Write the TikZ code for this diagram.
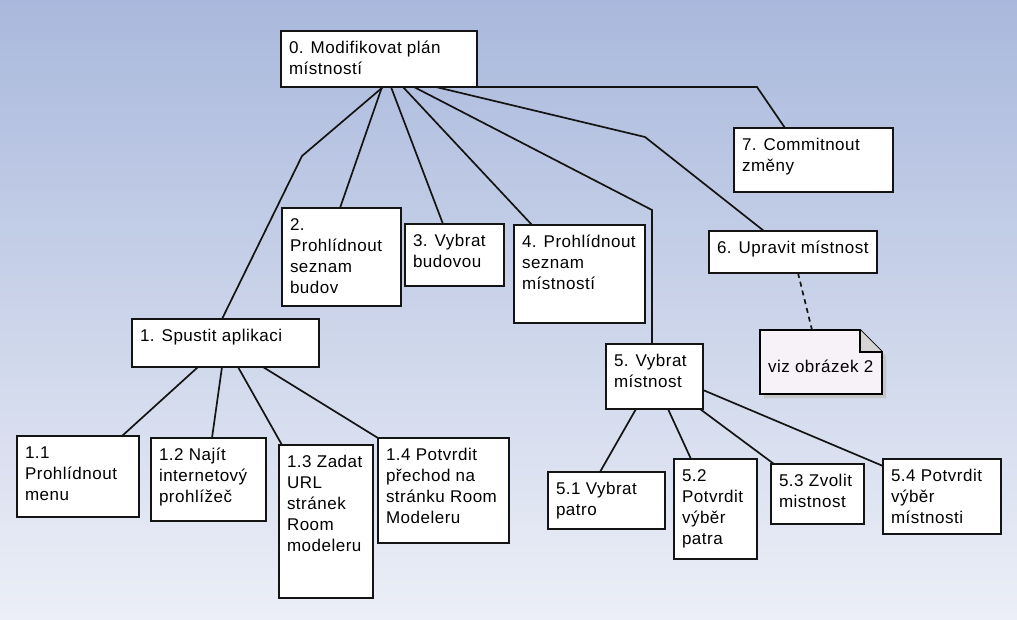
\documentclass[tikz,border=0pt]{standalone}
\usepackage{fontspec}
\setmainfont{Liberation Sans}[LetterSpace=3]
\usepackage{tkz-graph}
\usetikzlibrary{backgrounds}
\definecolor{bgtop}{RGB}{169,184,220}
\definecolor{bgbot}{RGB}{236,239,247}
\definecolor{notefill}{RGB}{247,242,247}
\definecolor{foldgray}{RGB}{212,212,212}
\definecolor{inkline}{RGB}{20,20,20}
\newcommand{\tasktext}[3]{\parbox[t][#2pt][t]{#1pt}{\rule{0pt}{16pt}#3}}

\begin{document}
\begin{tikzpicture}[x=1pt, y=-1pt, line width=1.7pt, draw=inkline,
    font=\fontsize{17pt}{21pt}\selectfont]
  \useasboundingbox (0,0) rectangle (1017,619);
  \GraphInit[vstyle=Normal]
  \tikzset{VertexStyle/.style = {draw=inkline, rectangle, fill=white,
      anchor=north west, line width=1.8pt, inner xsep=8pt, inner ysep=6pt,
      outer sep=0pt, text=black}}
  \Vertex[x=281,y=31,L={\tasktext{180}{44}{0. Modifikovat plán\\místností}}]{M0}
  \Vertex[x=132,y=319,L={\tasktext{171}{36}{1. Spustit aplikaci}}]{T1}
  \Vertex[x=282,y=208,L={\tasktext{103}{86}{2.\\Prohlídnout\\seznam\\budov}}]{T2}
  \Vertex[x=405,y=224,L={\tasktext{83}{50}{3. Vybrat\\budovou}}]{T3}
  \Vertex[x=514,y=225,L={\tasktext{115}{86}{4. Prohlídnout\\seznam\\místností}}]{T4}
  \Vertex[x=606,y=344,L={\tasktext{81}{53}{5. Vybrat\\místnost}}]{T5}
  \Vertex[x=709,y=231,L={\tasktext{152}{30}{6. Upravit místnost}}]{T6}
  \Vertex[x=734,y=128,L={\tasktext{143}{52}{7. Commitnout\\změny}}]{T7}
  \Vertex[x=17,y=436,L={\tasktext{106}{69}{1.1\\Prohlídnout\\menu}}]{T11}
  \Vertex[x=151,y=438,L={\tasktext{99}{71}{1.2 Najít\\internetový\\prohlížeč}}]{T12}
  \Vertex[x=279,y=445,L={\tasktext{78}{141}{1.3 Zadat\\URL\\stránek\\Room\\modeleru}}]{T13}
  \Vertex[x=378,y=438,L={\tasktext{115}{93}{1.4 Potvrdit\\přechod na\\stránku Room\\Modeleru}}]{T14}
  \Vertex[x=548,y=472,L={\tasktext{101}{45}{5.1 Vybrat\\patro}}]{T51}
  \Vertex[x=674,y=459,L={\tasktext{67}{88}{5.2\\Potvrdit\\výběr\\patra}}]{T52}
  \Vertex[x=771,y=464,L={\tasktext{77}{48}{5.3 Zvolit\\mistnost}}]{T53}
  \Vertex[x=883,y=459,L={\tasktext{102}{63}{5.4 Potvrdit\\výběr\\místnosti}}]{T54}
  \tikzset{VertexStyle/.append style = {draw=none, fill=none}}
  \Vertex[x=760,y=330,L={\tasktext{106}{52}{\rule{0pt}{36pt}viz obrázek 2}}]{N}
  \begin{scope}[on background layer]
    \shade[top color=bgtop, bottom color=bgbot] (0,0) rectangle (1017,619);
    \fill[gray!45] ([xshift=4pt, yshift=-4pt]N.north west)
      -- ([xshift=-18pt, yshift=-4pt]N.north east) -- ([xshift=4pt, yshift=-26pt]N.north east)
      -- ([xshift=4pt, yshift=-4pt]N.south east) -- ([xshift=4pt, yshift=-4pt]N.south west) -- cycle;
    \draw[fill=notefill, line width=1.8pt] (N.north west)
      -- ([xshift=-22pt]N.north east) -- ([yshift=-22pt]N.north east)
      -- (N.south east) -- (N.south west) -- cycle;
    \draw[fill=foldgray, line width=1.2pt] ([xshift=-22pt]N.north east)
      -- ([xshift=-22pt, yshift=-22pt]N.north east) -- ([yshift=-22pt]N.north east);
  \end{scope}
  \draw ([xshift=102pt]M0.south west) -- (302,156) -- ([xshift=90pt]T1.north west);
  \draw ([xshift=101pt]M0.south west) -- ([xshift=58pt]T2.north west);
  \draw ([xshift=110pt]M0.south west) -- ([xshift=38pt]T3.north west);
  \draw ([xshift=122pt]M0.south west) -- ([xshift=18pt]T4.north west);
  \draw ([xshift=133pt]M0.south west) -- (652,210) -- ([xshift=46pt]T5.north west);
  \draw ([xshift=155pt]M0.south west) -- (645,137) -- ([xshift=55pt]T6.north west);
  \draw (M0.south east) -- (757,87) -- ([xshift=51pt]T7.north west);
  \draw ([xshift=66pt]T1.south west) -- ([xshift=105pt]T11.north west);
  \draw ([xshift=90pt]T1.south west) -- ([xshift=61pt]T12.north west);
  \draw ([xshift=106pt]T1.south west) -- ([xshift=3pt]T13.north west);
  \draw ([xshift=131pt]T1.south west) -- (T14.north west);
  \draw ([xshift=30pt]T5.south west) -- ([xshift=52pt]T51.north west);
  \draw ([xshift=62pt]T5.south west) -- ([xshift=17pt]T52.north west);
  \draw ([xshift=94pt]T5.south west) -- ([xshift=3pt]T53.north west);
  \draw ([yshift=-46pt]T5.north east) -- ([yshift=-7pt]T54.north west);
  \draw[dash pattern=on 5pt off 4pt] ([xshift=89pt]T6.south west) -- ([xshift=52pt]N.north west);
\end{tikzpicture}
\end{document}
